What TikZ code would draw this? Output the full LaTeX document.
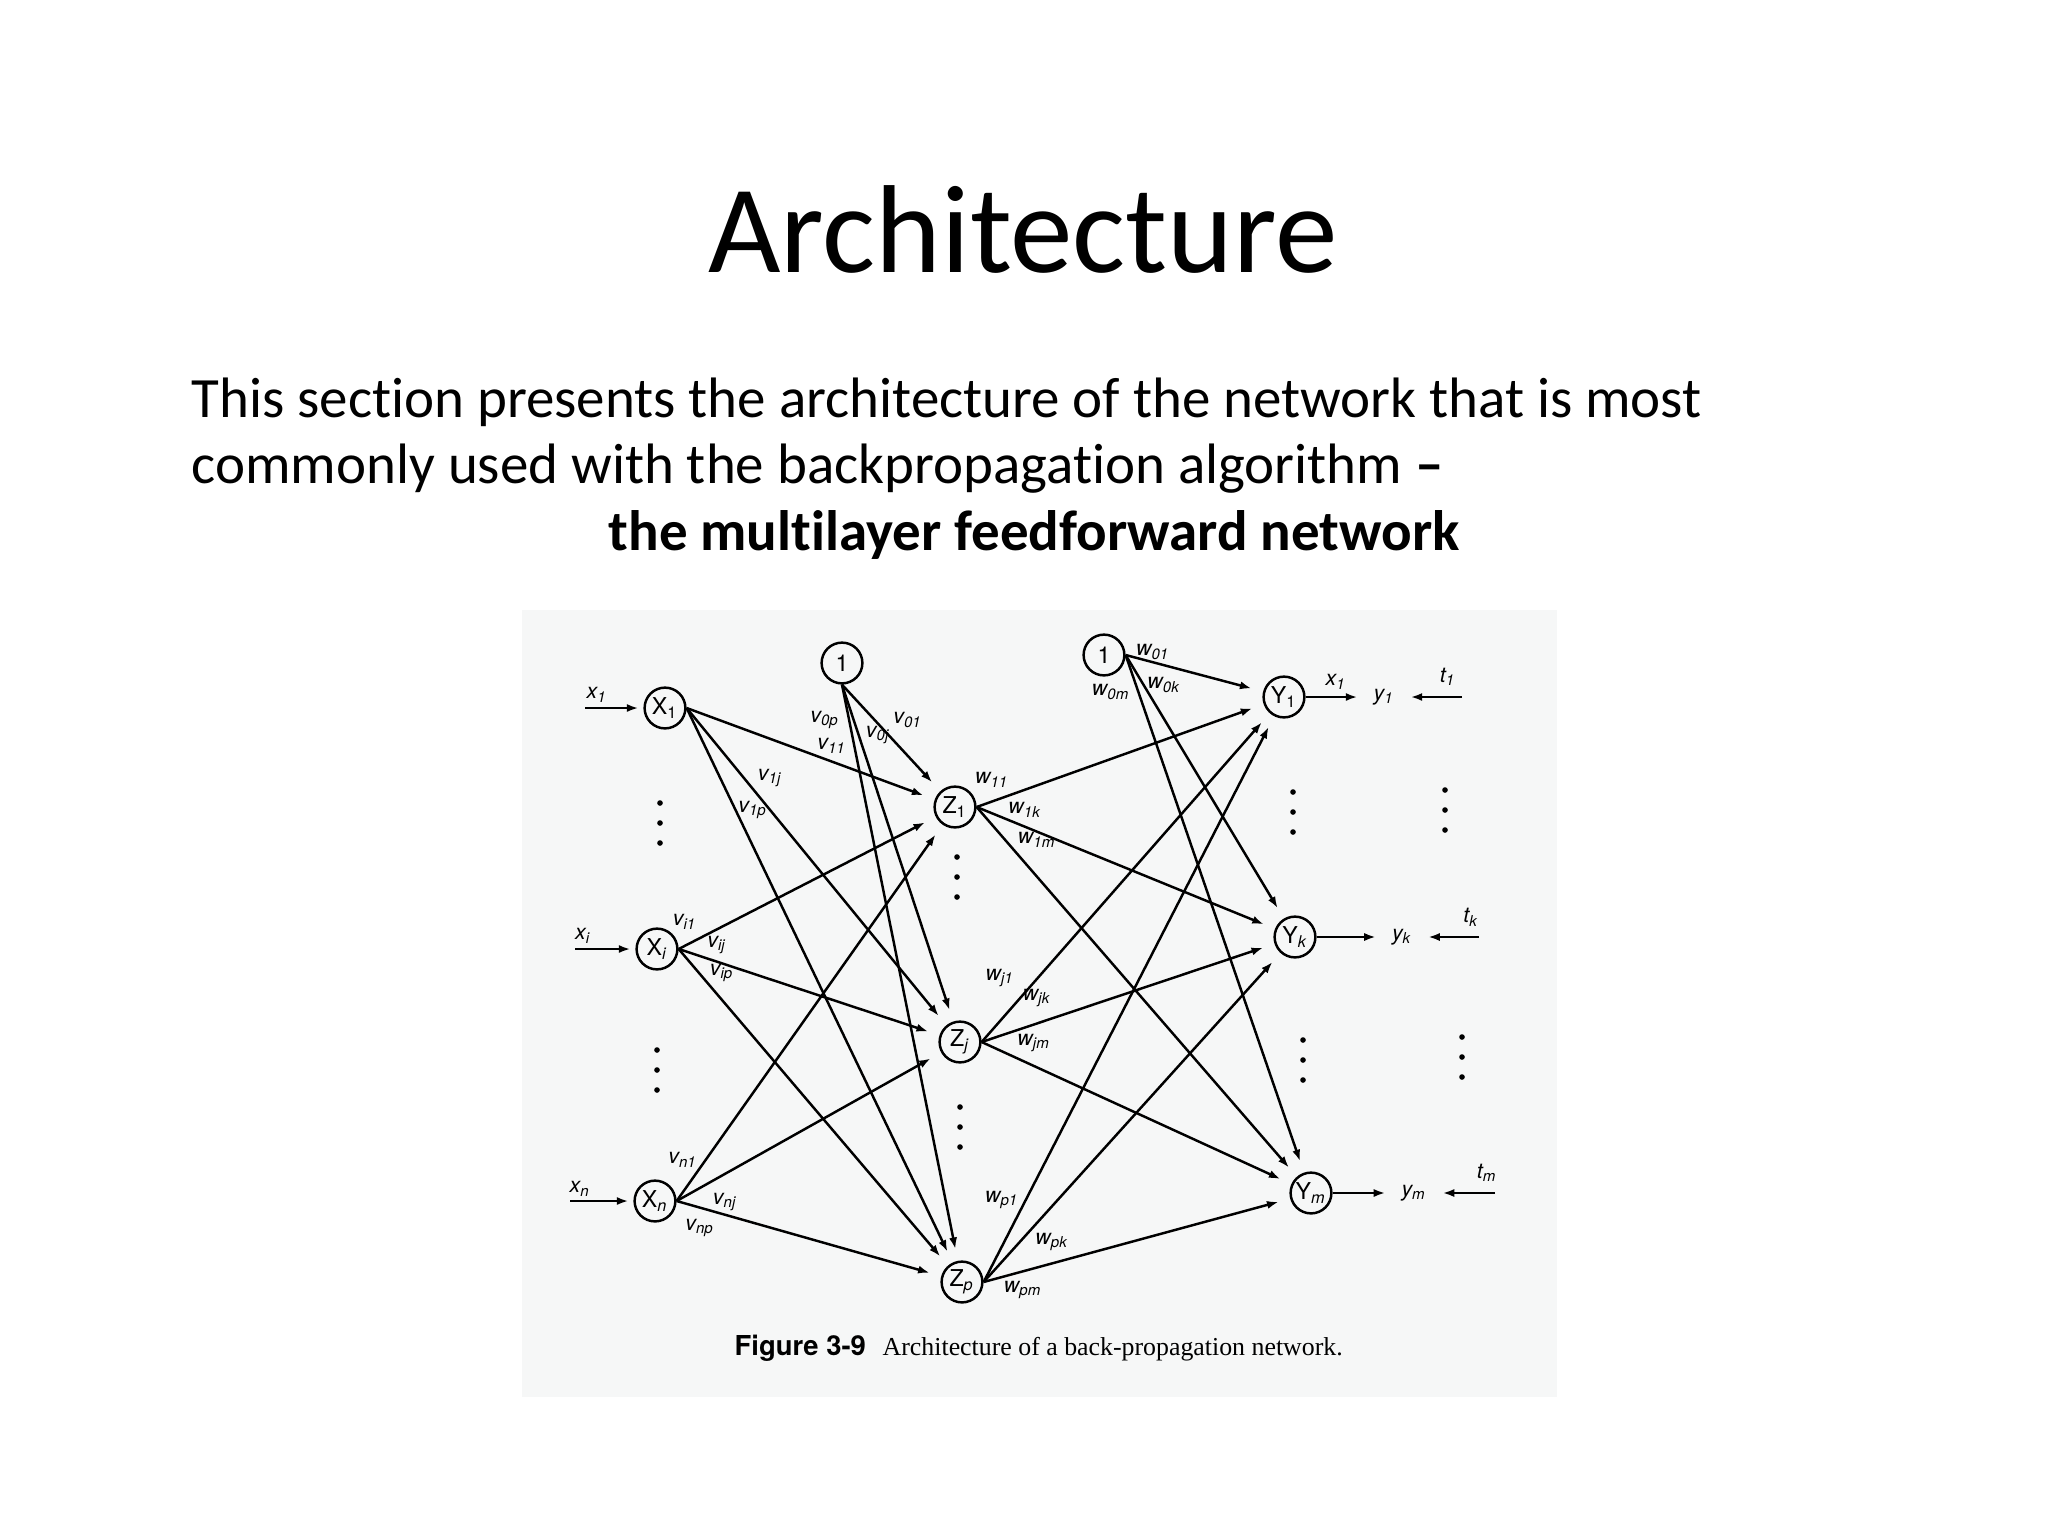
\documentclass[tikz,border=0pt]{standalone}
\usepackage{fontspec}
\setmainfont[Ligatures=NoCommon]{Carlito}
\newfontfamily\figfont{TeX Gyre Heros}
\newfontfamily\capfont{Liberation Serif}
\usetikzlibrary{arrows.meta}
\definecolor{scanbg}{RGB}{246,247,247}
\newcommand{\wt}[2]{\textit{#1\textsubscript{#2}}}
\newcommand{\unt}[2]{#1\textsubscript{#2}}

\begin{document}
\begin{tikzpicture}[x=0.01cm,y=-0.01cm,
  neuron/.style={circle,draw,line width=0.7pt,minimum size=11.6pt,inner sep=0pt,
    font=\figfont\fontsize{6.6pt}{7pt}\selectfont},
  wlab/.style={inner sep=0pt,font=\figfont\fontsize{6.1pt}{7pt}\selectfont},
  conn/.style={line width=0.7pt,-{Latex[length=3.3pt,width=2.3pt]},shorten >=3.4pt},
  inarr/.style={line width=0.7pt,-{Latex[length=3.3pt,width=2.3pt]},shorten >=1.4pt},
  slide/.style={inner sep=0pt,anchor=base west,font=\fontsize{16.2pt}{19pt}\selectfont}]
\path[fill=white,use as bounding box] (0,0) rectangle (2048,1536);

% heading and text
\node[inner sep=0pt,anchor=base] (title) at (1023,272) {\fontsize{35.6pt}{40pt}\selectfont Architecture};
\node[slide] (line1) at (191,417) {This section presents the architecture of the network that is most};
\node[slide] (line2) at (191,483) {commonly used with the backpropagation algorithm \textbf{--}};
\node[slide] (line3) at (608,550) {\textbf{the multilayer feedforward network}};

% scanned figure
\fill[scanbg] (522,610) rectangle (1557,1397);

\node[neuron] (X1) at (665,708) {\unt{X}{1}};
\node[neuron] (Xi) at (657,949) {\unt{X}{\itshape i}};
\node[neuron] (Xn) at (655,1201) {\unt{X}{\itshape n}};
\node[neuron] (bz) at (842,663) {1};
\node[neuron] (Z1) at (955,807) {\unt{Z}{1}};
\node[neuron] (Zj) at (960,1042) {\unt{Z}{\itshape j}};
\node[neuron] (Zp) at (962,1282) {\unt{Z}{\itshape p}};
\node[neuron] (by) at (1104,655) {1};
\node[neuron] (Y1) at (1284,697) {\unt{Y}{1}};
\node[neuron] (Yk) at (1295,937) {\unt{Y}{\itshape k}};
\node[neuron] (Ym) at (1311,1193) {\unt{Y}{\itshape m}};

% inputs
\coordinate (in1) at (585,708);
\coordinate (ini) at (575,949);
\coordinate (inn) at (570,1201);
\node[wlab] (lx1) at (597,695) {\wt{x}{1}};
\node[wlab] (lxi) at (583,936) {\wt{x}{i}};
\node[wlab] (lxn) at (580,1189) {\wt{x}{n}};
\draw[inarr] (in1) -- (X1);
\draw[inarr] (ini) -- (Xi);
\draw[inarr] (inn) -- (Xn);

% weights v
\path[conn] (X1.east) edge (Z1) edge (Zj) edge (Zp);
\path[conn] (Xi.east) edge (Z1) edge (Zj) edge (Zp);
\path[conn] (Xn.east) edge (Z1) edge (Zj) edge (Zp);
\path[conn] (bz.south) edge (Z1) edge (Zj) edge (Zp);
% weights w
\path[conn] (Z1.east) edge (Y1) edge (Yk) edge (Ym);
\path[conn] (Zj.east) edge (Y1) edge (Yk) edge (Ym);
\path[conn] (Zp.east) edge (Y1) edge (Yk) edge (Ym);
\path[conn] (by.east) edge (Y1) edge (Yk) edge (Ym);

\node[wlab] (v0p) at (825,720) {\wt{v}{0p}};
\node[wlab] (v01) at (908,720) {\wt{v}{01}};
\node[wlab] (v0j) at (878,735) {\wt{v}{0j}};
\node[wlab] (v11) at (832,746) {\wt{v}{11}};
\node[wlab] (v1j) at (770,778) {\wt{v}{1j}};
\node[wlab] (v1p) at (753,810) {\wt{v}{1p}};
\node[wlab] (vi1) at (685,922) {\wt{v}{i1}};
\node[wlab] (vij) at (717,945) {\wt{v}{ij}};
\node[wlab] (vip) at (722,973) {\wt{v}{ip}};
\node[wlab] (vn1) at (683,1160) {\wt{v}{n1}};
\node[wlab] (vnj) at (725,1202) {\wt{v}{nj}};
\node[wlab] (vnp) at (700,1228) {\wt{v}{np}};
\node[wlab] (w01) at (1153,652) {\wt{w}{01}};
\node[wlab] (w0k) at (1164,685) {\wt{w}{0k}};
\node[wlab] (w0m) at (1111,692) {\wt{w}{0m}};
\node[wlab] (w11) at (992,780) {\wt{w}{11}};
\node[wlab] (w1k) at (1025,810) {\wt{w}{1k}};
\node[wlab] (w1m) at (1037,840) {\wt{w}{1m}};
\node[wlab] (wj1) at (1000,978) {\wt{w}{j1}};
\node[wlab] (wjk) at (1037,998) {\wt{w}{jk}};
\node[wlab] (wjm) at (1034,1043) {\wt{w}{jm}};
\node[wlab] (wp1) at (1002,1200) {\wt{w}{p1}};
\node[wlab] (wpk) at (1052,1242) {\wt{w}{pk}};
\node[wlab] (wpm) at (1023,1290) {\wt{w}{pm}};

% outputs and targets
\node[wlab,inner sep=1pt] (y1) at (1384,697) {\wt{y}{1}};
\node[wlab,inner sep=1pt] (yk) at (1402,937) {\wt{y}{k}};
\node[wlab,inner sep=1pt] (ym) at (1414,1193) {\wt{y}{m}};
\node[wlab] (ox1) at (1336,682) {\wt{x}{1}};
\draw[conn] (Y1) -- (y1);
\draw[conn] (Yk) -- (yk);
\draw[conn] (Ym) -- (ym);
\coordinate (t1s) at (1462,697);
\coordinate (tks) at (1479,937);
\coordinate (tms) at (1495,1193);
\node[wlab] (t1) at (1448,677) {\wt{t}{1}};
\node[wlab] (tk) at (1471,917) {\wt{t}{k}};
\node[wlab] (tm) at (1487,1173) {\wt{t}{m}};
\draw[conn] (t1s) -- (y1);
\draw[conn] (tks) -- (yk);
\draw[conn] (tms) -- (ym);

% vertical dots
\foreach \px/\py in {660/803,657/1050,957/857,960/1107,1293/792,1445/790,1303/1040,1462/1037}
  \foreach \dy in {0,20,40}
    \fill (\px,\py+\dy) circle (0.8pt);

% caption
\node[inner sep=0pt,anchor=base west,font=\figfont\bfseries\fontsize{7.8pt}{9pt}\selectfont] (figno) at (734,1355) {Figure 3-9};
\node[inner sep=0pt,anchor=base west,font=\capfont\fontsize{7.35pt}{9pt}\selectfont] (figtxt) at (882,1355) {Architecture of a back-propagation network.};
\end{tikzpicture}
\end{document}
